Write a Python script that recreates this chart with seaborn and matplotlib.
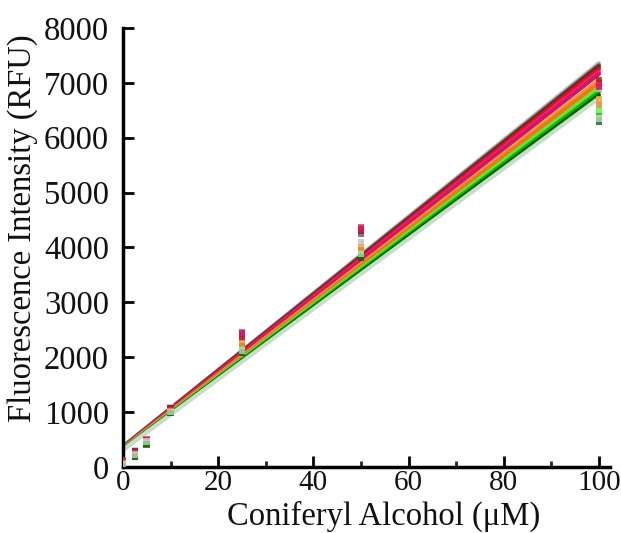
import numpy as np
import pandas as pd
import matplotlib
matplotlib.use("Agg")
import matplotlib.pyplot as plt
import seaborn as sns
from matplotlib.ticker import MultipleLocator

# ---- data ----
series = ["S1", "S2", "S3", "S4", "S5", "S6", "S7", "S8", "S9", "S10", "S11", "S12"]
colors = ["#bdbdbd", "#505050", "#8b1a1a", "#e0102a", "#ff2068", "#c81870",
          "#ff9a20", "#e8781e", "#50f030", "#10b010", "#005a00", "#c8dcc8"]
concentrations = [0, 2.5, 5, 10, 25, 50, 100]
fit_x = [0, 100]
fit_start = [370, 365, 360, 355, 350, 345, 340, 335, 330, 325, 320, 315]
fit_end = [7360, 7320, 7290, 7250, 7195, 7160, 7050, 6995, 6900, 6830, 6775, 6720]
pts_0 = [110, 95, 80, 60, 120, 100, 70, 50, 30, 15, 10, 40]
pts_2_5 = [300, 290, 280, 260, 250, 240, 220, 210, 200, 190, 180, 230]
pts_5 = [470, 460, 480, 470, 500, 490, 450, 440, 430, 420, 410, 460]
pts_10 = [1080, 1070, 1060, 1050, 1030, 1040, 1010, 1000, 990, 985, 980, 1000]
pts_25 = [2300, 2350, 2420, 2380, 2450, 2440, 2250, 2200, 2150, 2100, 2080, 2120]
pts_50 = [4100, 4250, 4300, 4350, 4370, 4340, 4000, 3950, 3900, 3850, 3820, 3880]
pts_100 = [6900, 7000, 7050, 7000, 6950, 6920, 6700, 6600, 6500, 6400, 6300, 6350]

# ---- tables ----
pts_by_x = [pts_0, pts_2_5, pts_5, pts_10, pts_25, pts_50, pts_100]
rows = []
for xi, vals in zip(concentrations, pts_by_x):
    for s, v in zip(series, vals):
        rows.append({"series": s, "x": xi, "y": v})
points = pd.DataFrame(rows)
lrows = []
for s, a, b in zip(series, fit_start, fit_end):
    lrows.append({"series": s, "x": fit_x[0], "y": a})
    lrows.append({"series": s, "x": fit_x[1], "y": b})
lines = pd.DataFrame(lrows)
palette = dict(zip(series, colors))

sns.set_style("white")
plt.rcParams["font.family"] = ["Liberation Serif", "DejaVu Serif"]

fig = plt.figure(figsize=(6.21, 5.33), dpi=100)
ax = fig.add_axes([0.198, 0.124, 0.784, 0.8235])

sns.lineplot(data=lines, x="x", y="y", hue="series", palette=palette,
             linewidth=3, legend=False, ax=ax, zorder=2)
sns.scatterplot(data=points, x="x", y="y", hue="series", palette=palette,
                marker="s", s=22, edgecolor="none", alpha=0.75,
                legend=False, ax=ax, zorder=3)

ax.set_xlim(0, 102.3)
ax.set_ylim(0, 8000)
ax.xaxis.set_major_locator(MultipleLocator(20))
ax.xaxis.set_minor_locator(MultipleLocator(10))
ax.yaxis.set_major_locator(MultipleLocator(1000))
ax.tick_params(axis="both", which="major", direction="in", length=8, width=2,
               color="black", labelcolor="#111111")
ax.tick_params(axis="x", which="major", bottom=True, pad=2, labelsize=21)
ax.tick_params(axis="y", which="major", left=True, pad=10, labelsize=23.5)
ax.tick_params(axis="x", which="minor", direction="in", length=4, width=2,
               bottom=True)
for side in ["top", "right"]:
    ax.spines[side].set_visible(False)
for side in ["left", "bottom"]:
    ax.spines[side].set_linewidth(2.5)
    ax.spines[side].set_color("black")

ax.set_xlabel("Coniferyl Alcohol (\u03bcM)", fontsize=23.5, color="#111111")
ax.set_ylabel("Fluorescence Intensity (RFU)", fontsize=23.5, color="#111111")
ax.xaxis.set_label_coords(0.536, -0.078)
ax.yaxis.set_label_coords(-0.175, 0.544)

fig.savefig("out.png", dpi=100)
